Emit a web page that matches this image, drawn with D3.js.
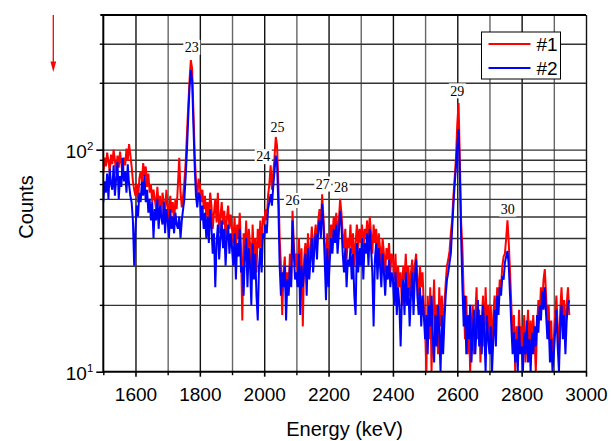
<!DOCTYPE html>
<html>
<head>
<meta charset="utf-8">
<script src="https://cdn.jsdelivr.net/npm/d3@7"></script>
<style>
  body { margin: 0; background: #fff; }
  svg text { font-family: "Liberation Sans", Arial, sans-serif; }
</style>
</head>
<body>
<svg id="chart" width="611" height="441"></svg>
<script>
// Gamma spectra, 4 keV bins starting at 1500 keV
const energyStart = 1500;
const energyStep = 4;

// Spectrum #1 (counts per bin)
const counts1 = [
  78, 92, 84, 97, 88, 80, 95, 86, 100, 90, 78, 94, 83, 98, 87, 76, 92, 85, 101, 89, 106, 95, 84, 72, 66,
  62, 70, 58, 74, 80, 72, 87, 76, 84, 68, 78, 64, 70, 58, 66, 60, 54, 68, 56, 62, 50, 64, 58, 52, 66,
  56, 48, 62, 52, 58, 46, 60, 54, 70, 92, 64, 55, 62, 72, 88, 118, 158, 205, 253, 232, 150, 96, 72, 60, 74,
  70, 58, 66, 54, 62, 50, 58, 48, 64, 56, 44, 52, 60, 47, 64, 42, 50, 58, 46, 53, 40, 49, 56, 44, 51,
  44, 38, 50, 34, 46, 40, 52, 36, 17, 42, 35, 48, 30, 44, 38, 26, 46, 33, 40, 28, 44, 36, 48, 32, 50,
  46, 54, 48, 62, 70, 85, 66, 78, 92, 114, 104, 70, 40, 30, 18, 28, 33, 22, 28, 24, 34, 26, 53, 38, 30,
  34, 28, 40, 26, 36, 16, 32, 38, 28, 42, 30, 36, 45, 32, 40, 46, 36, 48, 54, 44, 63, 50, 38, 30, 42,
  30, 38, 46, 40, 50, 44, 52, 40, 48, 60, 52, 42, 36, 44, 32, 40, 36, 46, 34, 42, 30, 38, 46, 36, 44,
  38, 46, 34, 44, 40, 48, 36, 50, 42, 34, 46, 38, 44, 32, 42, 36, 30, 40, 34, 28, 36, 32, 38, 28, 34,
  32, 26, 34, 22, 30, 24, 28, 20, 30, 26, 34, 24, 30, 22, 28, 32, 24, 30, 34, 26, 22, 30, 24, 28, 20,
  16, 10, 22, 14, 24, 10, 18, 26, 14, 20, 12, 24, 16, 22, 14, 20, 25, 30, 32, 35, 42, 48, 62, 75, 92,
  130, 162, 90, 47, 36, 22, 14, 22, 12, 18, 10, 16, 20, 12, 18, 24, 14, 19, 11, 17, 22, 13, 24, 16, 20,
  14, 20, 12, 18, 22, 16, 24, 20, 26, 24, 30, 33, 34, 40, 48, 38, 28, 20, 14, 18, 10, 16, 12, 19, 13,
  16, 12, 18, 11, 15, 19, 12, 17, 13, 18, 14, 10, 16, 21, 18, 24, 20, 26, 29, 22, 16, 20, 13, 17, 11,
  14, 18, 22, 16, 12, 19, 24, 17, 21, 14, 20, 24, 18
];

// Spectrum #2 (counts per bin)
const counts2 = [
  58, 72, 64, 78, 60, 82, 70, 66, 85, 62, 74, 88, 60, 76, 68, 92, 72, 80, 64, 86, 70, 62, 58, 48, 30,
  44, 56, 50, 64, 58, 72, 62, 77, 58, 66, 52, 60, 48, 58, 40, 54, 48, 60, 44, 56, 50, 46, 58, 42, 54,
  48, 40, 54, 44, 50, 42, 52, 46, 44, 50, 40, 48, 54, 60, 76, 100, 140, 190, 228, 205, 130, 84, 62, 55, 64,
  62, 48, 56, 44, 52, 40, 50, 38, 54, 45, 34, 42, 24, 38, 46, 32, 40, 48, 36, 44, 30, 40, 46, 34, 42,
  36, 30, 42, 26, 38, 33, 44, 28, 30, 22, 34, 40, 24, 36, 30, 20, 38, 26, 34, 22, 17, 30, 36, 28, 42,
  40, 46, 42, 54, 58, 63, 56, 68, 80, 94, 86, 56, 30, 22, 28, 24, 30, 17, 26, 22, 30, 24, 48, 34, 26,
  28, 24, 34, 18, 30, 24, 28, 34, 22, 36, 26, 32, 40, 28, 36, 42, 32, 44, 48, 40, 57, 46, 32, 21, 36,
  24, 32, 40, 34, 44, 38, 46, 34, 42, 53, 46, 34, 28, 36, 24, 32, 30, 36, 26, 34, 22, 18, 38, 28, 36,
  30, 40, 26, 38, 34, 42, 30, 44, 36, 28, 16, 32, 38, 26, 36, 30, 24, 34, 28, 22, 30, 26, 32, 24, 28,
  26, 20, 28, 18, 24, 20, 13, 22, 26, 18, 28, 20, 24, 16, 22, 28, 18, 26, 32, 22, 18, 24, 16, 22, 18,
  14, 18, 12, 20, 16, 22, 14, 11, 18, 13, 20, 15, 10, 18, 12, 17, 22, 26, 28, 31, 34, 44, 56, 70, 84,
  104, 124, 78, 40, 24, 16, 22, 12, 18, 14, 20, 11, 15, 19, 12, 16, 21, 13, 18, 12, 20, 15, 10, 18, 14,
  12, 16, 10, 14, 19, 13, 22, 18, 24, 22, 27, 26, 31, 33, 35, 30, 22, 16, 12, 15, 11, 14, 10, 16, 12,
  13, 10, 15, 12, 17, 11, 14, 10, 15, 12, 16, 13, 18, 15, 20, 17, 23, 19, 24, 18, 14, 17, 11, 14, 10,
  12, 15, 19, 13, 10, 16, 20, 14, 18, 12, 17, 20, 21
];

const seriesNames = ["#1", "#2"];
const seriesColors = ["#ff0000", "#0000ff"];

// Axis ticks
const xMajorTicks = [1600, 1800, 2000, 2200, 2400, 2600, 2800, 3000];
const xMinorTicks = [1500, 1700, 1900, 2100, 2300, 2500, 2700, 2900];
const yMajorTicks = [10, 100];
const yMinorTicks = [20, 30, 40, 50, 60, 70, 80, 90, 200, 300];

// Peak annotations (energy in keV, count level of the label)
const peakLabels = ["23", "24", "25", "26", "27", "28", "29", "30"];
const peakEnergies = [1775, 1997, 2041, 2088, 2182, 2239, 2600, 2757];
const peakLabelCounts = [289, 93, 126, 59, 70, 67.5, 184, 54];

const svg = d3.select("#chart");
const plot = { left: 103.3, right: 586, top: 15, bottom: 371.7 };

const x = d3.scaleLinear().domain([1500, 3000]).range([plot.left, plot.right]);
const y = d3.scaleLog().domain([10, 404]).range([plot.bottom, plot.top]);

const energies = counts1.map((_, i) => energyStart + i * energyStep);

// Vertical grid
const gridX = xMajorTicks.concat(xMinorTicks.filter(v => v > 1500));
svg.append("g")
  .attr("transform", `translate(0,${plot.top})`)
  .call(d3.axisBottom(x).tickValues(gridX).tickSize(plot.bottom - plot.top).tickFormat(""))
  .call(g => g.select(".domain").remove())
  .call(g => g.selectAll(".tick line")
    .attr("stroke", d => (d % 200 === 0 ? "#111" : "#666"))
    .attr("stroke-width", 1.4));

// Horizontal grid
svg.append("g")
  .attr("transform", `translate(${plot.left},0)`)
  .call(d3.axisRight(y).tickValues(yMinorTicks.concat([100])).tickSize(plot.right - plot.left).tickFormat(""))
  .call(g => g.select(".domain").remove())
  .call(g => g.selectAll(".tick line").attr("stroke", "#333").attr("stroke-width", 1.4));

// Peak labels with white backing
const labels = svg.append("g");
peakLabels.forEach((t, i) => {
  const cx = x(peakEnergies[i]);
  const cy = y(peakLabelCounts[i]);
  labels.append("rect")
    .attr("x", cx - 8.5).attr("y", cy - 7.5)
    .attr("width", 17).attr("height", 15)
    .attr("fill", "#fff");
  labels.append("text")
    .attr("x", cx).attr("y", cy + 4.8)
    .attr("text-anchor", "middle")
    .style("font-family", "'Liberation Serif', 'Times New Roman', serif")
    .style("font-size", "14px")
    .attr("fill", "#000")
    .text(t);
});

// Spectra
svg.append("clipPath").attr("id", "plotClip")
  .append("rect")
  .attr("x", plot.left).attr("y", plot.top)
  .attr("width", plot.right - plot.left).attr("height", plot.bottom - plot.top);

const line = d3.line()
  .x((d, i) => x(energies[i]))
  .y(d => y(Math.max(d, 10)));

[counts1, counts2].forEach((series, k) => {
  svg.append("path")
    .datum(series)
    .attr("clip-path", "url(#plotClip)")
    .attr("fill", "none")
    .attr("stroke", seriesColors[k])
    .attr("stroke-width", 2)
    .attr("stroke-linejoin", "miter")
    .attr("d", line);
});

// Frame
svg.append("line").attr("x1", plot.left).attr("x2", plot.left)
  .attr("y1", plot.top - 1).attr("y2", plot.bottom + 1)
  .attr("stroke", "#000").attr("stroke-width", 2);
svg.append("line").attr("x1", plot.left - 3).attr("x2", plot.right)
  .attr("y1", plot.top).attr("y2", plot.top)
  .attr("stroke", "#000").attr("stroke-width", 2);
svg.append("line").attr("x1", plot.left).attr("x2", plot.right + 1)
  .attr("y1", plot.bottom).attr("y2", plot.bottom)
  .attr("stroke", "#000").attr("stroke-width", 2);

// Bottom axis ticks and labels
svg.append("g")
  .attr("transform", `translate(0,${plot.bottom})`)
  .call(d3.axisBottom(x).tickValues(xMinorTicks).tickSize(3.5).tickFormat(""))
  .call(g => g.select(".domain").remove())
  .call(g => g.selectAll(".tick line").attr("stroke", "#000").attr("stroke-width", 1.4));

svg.append("g")
  .attr("transform", `translate(0,${plot.bottom})`)
  .call(d3.axisBottom(x).tickValues(xMajorTicks).tickSize(5).tickPadding(11).tickFormat(d3.format("d")))
  .call(g => g.select(".domain").remove())
  .call(g => g.selectAll(".tick line").attr("stroke", "#000").attr("stroke-width", 1.6))
  .call(g => g.selectAll(".tick text")
    .attr("fill", "#000")
    .style("font-size", "19px")
    .style("font-family", "'Liberation Sans', Arial, sans-serif"));

// Left axis ticks and power-of-ten labels
svg.append("g")
  .attr("transform", `translate(${plot.left},0)`)
  .call(d3.axisLeft(y).tickValues(yMinorTicks).tickSize(3.5).tickFormat(""))
  .call(g => g.select(".domain").remove())
  .call(g => g.selectAll(".tick line").attr("stroke", "#000").attr("stroke-width", 1.4));

svg.append("g")
  .attr("transform", `translate(${plot.left},0)`)
  .call(d3.axisLeft(y).tickValues(yMajorTicks).tickSize(7).tickFormat(""))
  .call(g => g.select(".domain").remove())
  .call(g => g.selectAll(".tick line").attr("stroke", "#000").attr("stroke-width", 1.6))
  .call(g => g.selectAll(".tick").each(function (d) {
    const t = d3.select(this).append("text")
      .attr("x", -10).attr("y", 7.5)
      .attr("text-anchor", "end")
      .attr("fill", "#000")
      .style("font-size", "19px")
      .style("font-family", "'Liberation Sans', Arial, sans-serif");
    t.append("tspan").text("10");
    t.append("tspan").attr("dy", -8).style("font-size", "11.5px")
      .text(String(Math.round(Math.log10(d))));
  }));

// Axis titles
svg.append("text")
  .attr("x", (plot.left + plot.right) / 2).attr("y", 436)
  .attr("text-anchor", "middle")
  .style("font-size", "20px")
  .attr("fill", "#000")
  .text("Energy (keV)");

svg.append("text")
  .attr("transform", "translate(33,207) rotate(-90)")
  .attr("text-anchor", "middle")
  .style("font-size", "20px")
  .attr("fill", "#000")
  .text("Counts");

// Legend
const legend = svg.append("g").attr("transform", "translate(481.5,32)");
legend.append("rect")
  .attr("width", 79).attr("height", 47)
  .attr("fill", "#fff").attr("stroke", "#000").attr("stroke-width", 1);
seriesNames.forEach((name, i) => {
  const ly = 12 + i * 24;
  legend.append("line")
    .attr("x1", 7).attr("x2", 49).attr("y1", ly).attr("y2", ly)
    .attr("stroke", seriesColors[i]).attr("stroke-width", 1.8);
  legend.append("text")
    .attr("x", 55).attr("y", ly + 6.5)
    .style("font-size", "19px")
    .attr("fill", "#000")
    .text(name);
});

// Red marker arrow
const arrow = svg.append("g");
arrow.append("line")
  .attr("x1", 53.3).attr("x2", 53.3).attr("y1", 15).attr("y2", 64)
  .attr("stroke", "#ff0000").attr("stroke-width", 1.3);
arrow.append("path")
  .attr("d", "M50.4,61.5 L56.2,61.5 L53.3,72 Z")
  .attr("fill", "#ff0000");
</script>
</body>
</html>
